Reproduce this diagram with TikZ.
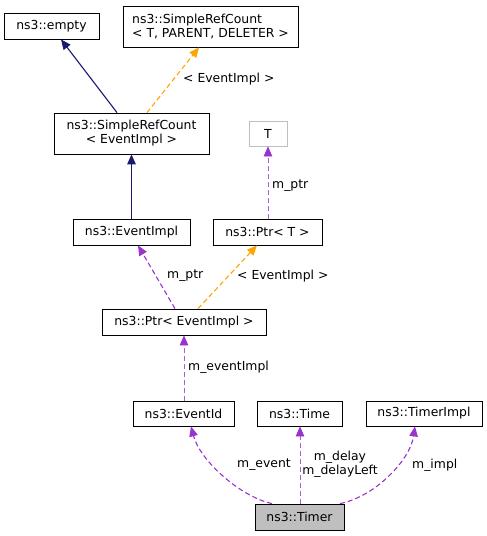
\documentclass[tikz,border=0pt]{standalone}
\usepackage{fontspec}
\setmainfont{DejaVu Sans}
\usetikzlibrary{arrows.meta}
\definecolor{navy}{HTML}{191970}
\definecolor{purp}{HTML}{9A32CD}
\definecolor{orng}{HTML}{FFA500}
\definecolor{gry}{HTML}{BFBFBF}
\begin{document}
\begin{tikzpicture}[x=1pt,y=-1pt,
  font=\fontsize{12.4}{14}\selectfont,
  box/.style={draw=black,line width=0.8pt,inner sep=0pt,align=center},
  lbl/.style={inner sep=0pt,anchor=west},
  tip/.style={-{Triangle[length=10pt,width=8.5pt]}},
  inh/.style={tip,draw=navy,line width=1.1pt},
  tmpl/.style={tip,draw=orng,line width=1.1pt,dash pattern=on 5pt off 3pt},
  use/.style={tip,draw=purp,line width=1.1pt,dash pattern=on 5pt off 3pt},
  vuse/.style={-{Triangle[length=10pt,width=8.5pt,color=purp]},draw=purp!80,line width=0.8pt,dash pattern=on 5pt off 3pt}]
\useasboundingbox (0,0) rectangle (487,536);
\node[box,minimum width=95pt,minimum height=26pt] (empty) at (51.5,26) {ns3::empty};
\node[box,minimum width=175pt,minimum height=41pt,align=left] (srcT) at (210.5,26.5) {ns3::SimpleRefCount\\< T, PARENT, DELETER >};
\node[box,minimum width=155pt,minimum height=41pt] (srcE) at (131.5,133.5) {ns3::SimpleRefCount\\< EventImpl >};
\node[box,draw=gry,minimum width=38pt,minimum height=25pt] (T) at (268,133.5) {T};
\node[box,minimum width=117pt,minimum height=26pt] (eventimpl) at (131.5,232) {ns3::EventImpl};
\node[box,minimum width=109pt,minimum height=26pt] (ptrT) at (267.5,232) {ns3::Ptr< T >};
\node[box,minimum width=164pt,minimum height=26pt] (ptrE) at (184,322) {ns3::Ptr< EventImpl >};
\node[box,minimum width=101pt,minimum height=25pt] (eventid) at (183.5,413.5) {ns3::EventId};
\node[box,minimum width=85pt,minimum height=25pt] (time) at (299.5,413.5) {ns3::Time};
\node[box,minimum width=116pt,minimum height=25pt] (timerimpl) at (424,413.5) {ns3::TimerImpl};
\node[box,fill=gry,minimum width=89pt,minimum height=26pt] (timer) at (299.5,517) {ns3::Timer};

\draw[inh] ([xshift=-14.5pt]srcE.north) -- ([xshift=9.5pt]empty.south);
\draw[tmpl] ([xshift=15.5pt]srcE.north) -- ([xshift=-11.5pt]srcT.south);
\node[lbl] (l1) at (183,79) {< EventImpl >};
\draw[inh] (eventimpl.north) -- (srcE.south);
\draw[vuse] ([xshift=0.5pt]ptrT.north) -- ([xshift=0.5pt]ptrT.north |- T.south);
\node[lbl] (l2) at (272,186) {m\_ptr};
\draw[use] ([xshift=-9pt]ptrE.north) -- ([xshift=6.5pt]eventimpl.south);
\node[lbl] (l3) at (167,276) {m\_ptr};
\draw[tmpl] ([xshift=14pt]ptrE.north) -- ([xshift=-10.5pt]ptrT.south);
\node[lbl] (l4) at (237,276) {< EventImpl >};
\draw[vuse] ([xshift=0.5pt]eventid.north) -- ([xshift=0.5pt]eventid.north |- ptrE.south);
\node[lbl] (l5) at (188,367) {m\_eventImpl};
\draw[use] ([xshift=-27.5pt]timer.north) .. controls +(-32,-7) and +(9,34) .. ([xshift=7.5pt]eventid.south);
\node[lbl] (l6) at (237,465) {m\_event};
\draw[vuse] ([xshift=0.5pt]timer.north) -- ([xshift=0.5pt]time.south);
\node[inner sep=0pt,align=center] (l7) at (340,464.5) {m\_delay\\m\_delayLeft};
\draw[use] ([xshift=40.5pt]timer.north) .. controls +(35,-7) and +(-5,34) .. ([xshift=-9pt]timerimpl.south);
\node[lbl] (l8) at (412,465) {m\_impl};
\end{tikzpicture}
\end{document}
